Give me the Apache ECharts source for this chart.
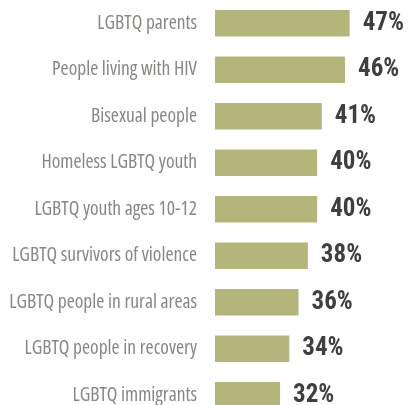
<!DOCTYPE html>
<html>
<head>
<meta charset="utf-8">
<script src="https://cdn.jsdelivr.net/npm/echarts@6/dist/echarts.min.js"></script>
<style>
html,body{margin:0;padding:0;background:#fff;}
#main{width:410px;height:405px;}
</style>
</head>
<body>
<div id="main"></div>
<script>
const categories = [
  "LGBTQ parents",
  "People living with HIV",
  "Bisexual people",
  "Homeless LGBTQ youth",
  "LGBTQ youth ages 10-12",
  "LGBTQ survivors of violence",
  "LGBTQ people in rural areas",
  "LGBTQ people in recovery",
  "LGBTQ immigrants"
];
const values = [47, 46, 41, 40, 40, 38, 36, 34, 32];

const chart = echarts.init(document.getElementById('main'), null, {renderer: 'canvas'});
chart.setOption({
  animation: false,
  grid: {left: 215, right: 0, top: 0, height: 418.5, outerBoundsMode: 'none', containLabel: false},
  xAxis: {
    type: 'value', min: 18, max: 60, show: false
  },
  yAxis: {
    type: 'category', data: categories, inverse: true,
    axisLine: {show: false}, axisTick: {show: false}, splitLine: {show: false},
    axisLabel: {
      margin: 18, color: '#878783', fontSize: 19.5, fontStyle: 'condensed',
      fontFamily: '"Open Sans"'
    }
  },
  series: [{
    type: 'bar', data: values, barWidth: 26.7,
    itemStyle: {color: '#b3b57b'},
    label: {
      show: true, position: 'right', distance: 13,
      formatter: '{c}%', color: '#3f3f3f', fontSize: 25, fontWeight: 'bold',
      fontFamily: '"Roboto Condensed"'
    }
  }]
});
</script>
</body>
</html>
